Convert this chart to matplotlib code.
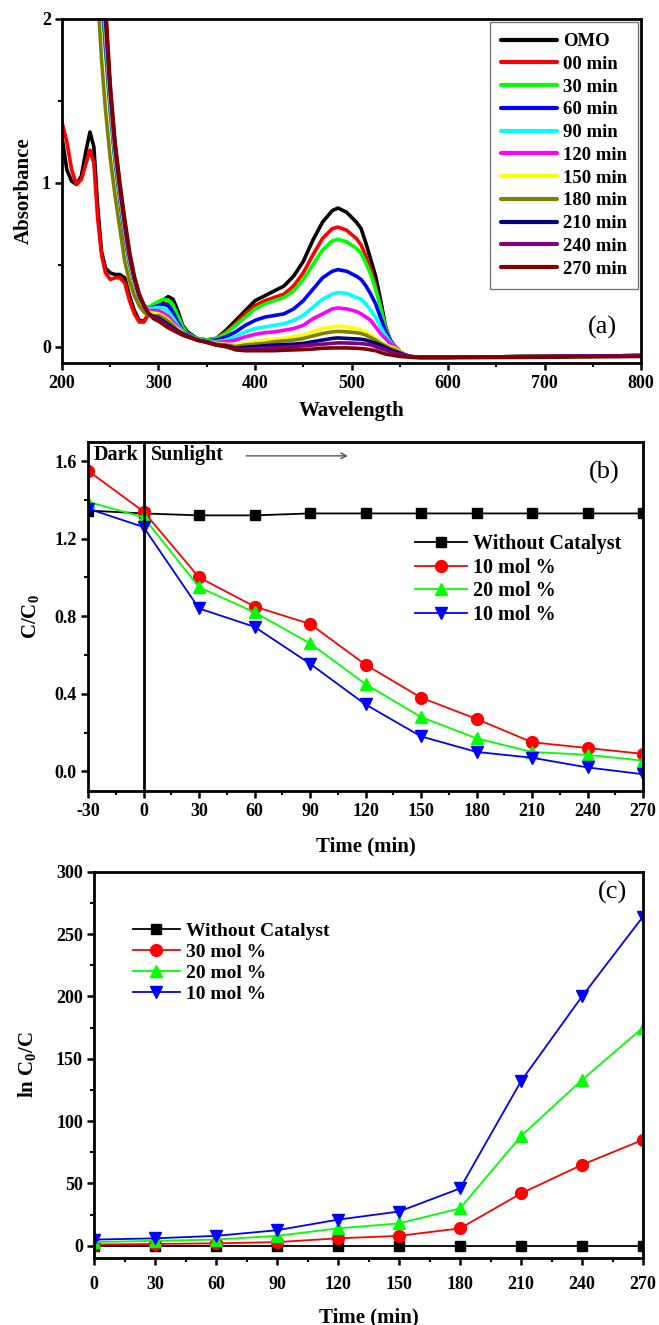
import numpy as np
import matplotlib
matplotlib.use("Agg")
import matplotlib.pyplot as plt
from matplotlib.ticker import MultipleLocator, FormatStrFormatter

plt.rcParams.update({
    "font.family": ["Liberation Serif", "DejaVu Serif"],
    "font.weight": "bold",
    "axes.labelweight": "bold",
    "axes.unicode_minus": False,
    "mathtext.fontset": "custom",
    "mathtext.rm": "Liberation Serif:bold",
    "mathtext.it": "Liberation Serif:bold",
    "mathtext.bf": "Liberation Serif:bold",
    "mathtext.default": "rm",
})

# ---------------- (a) UV-Vis spectra ----------------
wavelength = [200, 205, 210, 215, 220, 225, 229, 233, 237, 241,
              245, 250, 255, 260, 265, 270, 275, 280, 285, 290,
              295, 300, 305, 310, 315, 320, 325, 330, 340, 350,
              360, 370, 380, 390, 400, 410, 420, 430, 440, 450,
              460, 470, 480, 486, 495, 505, 510, 515, 520, 525,
              530, 535, 540, 545, 550, 555, 560, 570, 600, 700, 800]
nan = np.nan

abs_omo = [1.28, 1.08, 1.01, 0.99, 1.04, 1.20, 1.31, 1.22, 0.85, 0.58,
           0.48, 0.45, 0.44, 0.44, 0.42, 0.31, 0.22, 0.16, 0.155, 0.20,
           0.25, 0.27, 0.285, 0.305, 0.29, 0.22, 0.13, 0.09, 0.05, 0.04,
           0.05, 0.10, 0.16, 0.22, 0.28, 0.31, 0.34, 0.37, 0.43, 0.52,
           0.65, 0.76, 0.83, 0.846, 0.82, 0.76, 0.72, 0.63, 0.53, 0.43,
           0.29, 0.13, 0.04, 0.0, -0.03, -0.05, -0.06, -0.065, -0.065, -0.06, -0.055]
abs_00 = [1.37, 1.25, 1.08, 0.99, 1.02, 1.12, 1.20, 1.12, 0.78, 0.56,
          0.45, 0.41, 0.42, 0.42, 0.39, 0.28, 0.20, 0.15, 0.15, 0.21,
          0.25, 0.26, 0.265, 0.26, 0.22, 0.17, 0.11, 0.08, 0.05, 0.04,
          0.05, 0.09, 0.14, 0.20, 0.25, 0.28, 0.30, 0.32, 0.37, 0.45,
          0.56, 0.66, 0.72, 0.73, 0.71, 0.66, 0.62, 0.55, 0.47, 0.37,
          0.25, 0.12, 0.04, 0.0, -0.03, -0.05, -0.06, -0.065, -0.065, -0.06, -0.055]
abs_30 = [nan, nan, nan, nan, nan, nan, nan, nan, 2.6, 2.15,
          1.8, 1.42, 1.12, 0.88, 0.66, 0.50, 0.38, 0.30, 0.25, 0.24,
          0.26, 0.275, 0.29, 0.285, 0.255, 0.19, 0.12, 0.08, 0.05, 0.04,
          0.05, 0.08, 0.13, 0.18, 0.23, 0.26, 0.28, 0.30, 0.34, 0.41,
          0.50, 0.59, 0.645, 0.655, 0.64, 0.60, 0.57, 0.51, 0.44, 0.35,
          0.24, 0.12, 0.04, 0.0, -0.03, -0.05, -0.06, -0.065, -0.065, -0.06, -0.055]
abs_60 = [nan, nan, nan, nan, nan, nan, nan, nan, 2.65, 2.2,
          1.85, 1.45, 1.14, 0.90, 0.68, 0.51, 0.39, 0.30, 0.25, 0.23,
          0.24, 0.25, 0.26, 0.25, 0.21, 0.15, 0.10, 0.075, 0.045, 0.035,
          0.04, 0.06, 0.09, 0.13, 0.16, 0.18, 0.19, 0.20, 0.23, 0.28,
          0.35, 0.42, 0.46, 0.47, 0.46, 0.43, 0.41, 0.37, 0.32, 0.26,
          0.18, 0.10, 0.04, 0.0, -0.03, -0.05, -0.06, -0.065, -0.065, -0.06, -0.055]
abs_90 = [nan, nan, nan, nan, nan, nan, nan, nan, 2.7, 2.25,
          1.9, 1.48, 1.16, 0.92, 0.70, 0.52, 0.39, 0.30, 0.25, 0.23,
          0.235, 0.24, 0.235, 0.215, 0.175, 0.13, 0.095, 0.07, 0.045, 0.035,
          0.03, 0.04, 0.06, 0.09, 0.11, 0.12, 0.13, 0.14, 0.16, 0.19,
          0.24, 0.29, 0.32, 0.33, 0.325, 0.30, 0.29, 0.26, 0.22, 0.18,
          0.12, 0.07, 0.03, 0.0, -0.03, -0.05, -0.06, -0.065, -0.065, -0.06, -0.055]
abs_120 = [nan, nan, nan, nan, nan, nan, nan, nan, 2.75, 2.28,
           1.93, 1.5, 1.18, 0.93, 0.71, 0.53, 0.40, 0.31, 0.25, 0.22,
           0.22, 0.22, 0.205, 0.185, 0.15, 0.12, 0.09, 0.07, 0.04, 0.03,
           0.025, 0.03, 0.04, 0.06, 0.075, 0.085, 0.09, 0.10, 0.11, 0.13,
           0.17, 0.20, 0.23, 0.236, 0.23, 0.215, 0.20, 0.18, 0.16, 0.12,
           0.08, 0.05, 0.02, 0.0, -0.03, -0.05, -0.06, -0.065, -0.065, -0.06, -0.055]
abs_150 = [nan, nan, nan, nan, nan, nan, nan, nan, 2.8, 2.3,
           1.96, 1.52, 1.19, 0.94, 0.72, 0.54, 0.40, 0.31, 0.25, 0.21,
           0.205, 0.20, 0.185, 0.165, 0.135, 0.11, 0.085, 0.065, 0.04, 0.03,
           0.02, 0.015, 0.01, 0.02, 0.03, 0.04, 0.045, 0.05, 0.06, 0.07,
           0.09, 0.11, 0.12, 0.124, 0.12, 0.11, 0.10, 0.09, 0.07, 0.05,
           0.03, 0.01, 0.0, -0.01, -0.03, -0.05, -0.06, -0.065, -0.065, -0.06, -0.055]
abs_180 = [nan, nan, nan, nan, nan, nan, nan, nan, 2.15, 1.75,
           1.45, 1.15, 0.92, 0.72, 0.52, 0.40, 0.31, 0.25, 0.21, 0.19,
           0.185, 0.19, 0.175, 0.155, 0.13, 0.10, 0.08, 0.065, 0.04, 0.03,
           0.015, 0.01, 0.0, 0.01, 0.015, 0.02, 0.03, 0.035, 0.04, 0.05,
           0.065, 0.08, 0.09, 0.093, 0.09, 0.085, 0.08, 0.07, 0.055, 0.04,
           0.02, 0.005, -0.01, -0.02, -0.035, -0.05, -0.06, -0.065, -0.065, -0.06, -0.055]
abs_210 = [nan, nan, nan, nan, nan, nan, nan, nan, 2.85, 2.35,
           2.0, 1.55, 1.21, 0.96, 0.74, 0.55, 0.41, 0.31, 0.25, 0.20,
           0.185, 0.175, 0.155, 0.135, 0.115, 0.095, 0.08, 0.065, 0.04, 0.03,
           0.01, 0.005, -0.01, -0.005, 0.0, 0.005, 0.01, 0.012, 0.015, 0.02,
           0.03, 0.04, 0.05, 0.053, 0.05, 0.047, 0.045, 0.04, 0.03, 0.02,
           0.01, -0.005, -0.02, -0.03, -0.04, -0.05, -0.06, -0.065, -0.065, -0.06, -0.055]
abs_240 = [nan, nan, nan, nan, nan, nan, nan, nan, 2.9, 2.4,
           2.04, 1.57, 1.23, 0.98, 0.76, 0.56, 0.42, 0.32, 0.25, 0.20,
           0.18, 0.165, 0.145, 0.125, 0.105, 0.09, 0.075, 0.062, 0.04, 0.027,
           0.01, 0.0, -0.015, -0.015, -0.012, -0.01, -0.008, -0.005, 0.0, 0.005,
           0.01, 0.015, 0.02, 0.023, 0.022, 0.02, 0.018, 0.015, 0.01, 0.0,
           -0.01, -0.02, -0.03, -0.04, -0.045, -0.05, -0.06, -0.065, -0.065, -0.06, -0.055]
abs_270 = [nan, nan, nan, nan, nan, nan, nan, nan, 3.0, 2.45,
           2.1, 1.6, 1.25, 1.0, 0.78, 0.58, 0.43, 0.32, 0.25, 0.20,
           0.17, 0.155, 0.135, 0.115, 0.10, 0.085, 0.07, 0.06, 0.04, 0.025,
           0.01, 0.0, -0.02, -0.025, -0.025, -0.025, -0.025, -0.022, -0.02, -0.018,
           -0.015, -0.01, -0.008, -0.008, -0.008, -0.01, -0.012, -0.015, -0.02, -0.025,
           -0.035, -0.045, -0.05, -0.055, -0.06, -0.062, -0.065, -0.068, -0.068, -0.065, -0.06]

spectra_labels = ["OMO", "00 min", "30 min", "60 min", "90 min", "120 min",
                  "150 min", "180 min", "210 min", "240 min", "270 min"]
spectra = [abs_omo, abs_00, abs_30, abs_60, abs_90, abs_120,
           abs_150, abs_180, abs_210, abs_240, abs_270]
spectra_colors = ["#000000", "#FF0000", "#00FF00", "#0000FF", "#00FFFF", "#FF00FF",
                  "#FFFF00", "#808000", "#000080", "#800080", "#800000"]

# ---------------- (b) C/C0 vs time ----------------
time_b = [-30, 0, 30, 60, 90, 120, 150, 180, 210, 240, 270]
cc0_none = [1.345, 1.33, 1.32, 1.32, 1.33, 1.33, 1.33, 1.33, 1.33, 1.33, 1.33]
cc0_red = [1.55, 1.34, 1.00, 0.85, 0.76, 0.55, 0.38, 0.27, 0.15, 0.12, 0.09]
cc0_green = [1.39, 1.31, 0.95, 0.82, 0.66, 0.45, 0.28, 0.17, 0.10, 0.085, 0.055]
cc0_blue = [1.355, 1.26, 0.84, 0.745, 0.555, 0.345, 0.18, 0.10, 0.07, 0.02, -0.015]
labels_b = ["Without Catalyst", "10 mol %", "20 mol %", "10 mol %"]

# ---------------- (c) ln(C0/C) vs time ----------------
time_c = [0, 30, 60, 90, 120, 150, 180, 210, 240, 270]
ln_none = [0, 0, 0, 0, 0, 0, 0, 0, 0, 0]
ln_30 = [1, 1.5, 2, 3, 6, 8, 14, 42, 65, 85]
ln_20 = [3, 4, 5, 8, 14, 18, 30, 88, 133, 175]
ln_10 = [5, 6, 8, 12.5, 21, 27.5, 46, 132, 200, 264]
labels_c = ["Without Catalyst", "30 mol %", "20 mol %", "10 mol %"]

series_colors = ["#000000", "#FF0000", "#00FF00", "#0000FF"]
series_markers = ["s", "o", "^", "v"]
series_ms = [7.5, 8.5, 9, 9]

TICK_FS = 13
LABEL_FS = 15
W, H = 659, 1325
fig = plt.figure(figsize=(W / 100, H / 100), dpi=100)


def frame_style(ax, xpad=3):
    for s in ax.spines.values():
        s.set_linewidth(2.0)
    ax.tick_params(which="major", direction="out", length=5, width=1.8,
                   labelsize=TICK_FS, pad=3)
    ax.tick_params(axis="x", which="major", pad=xpad)
    ax.tick_params(which="minor", direction="out", length=3, width=1.5)


# (a)
ax_a = fig.add_axes([62 / W, 1 - 363 / H, 579 / W, 344 / H])
for y, lab, col in zip(spectra, spectra_labels, spectra_colors):
    ax_a.plot(wavelength, y, color=col, lw=2.6, label=lab,
              solid_joinstyle="round", solid_capstyle="round")
ax_a.set_xlim(200, 800)
ax_a.set_ylim(-0.1, 2.0)
ax_a.xaxis.set_major_locator(MultipleLocator(100))
ax_a.xaxis.set_minor_locator(MultipleLocator(50))
ax_a.yaxis.set_major_locator(MultipleLocator(1))
ax_a.yaxis.set_minor_locator(MultipleLocator(0.5))
frame_style(ax_a, xpad=4)
ax_a.set_xlabel("Wavelength", fontsize=LABEL_FS, labelpad=6)
ax_a.set_ylabel("Absorbance", fontsize=LABEL_FS, labelpad=6)
leg_a = ax_a.legend(loc="upper right", fontsize=13.5, frameon=True, fancybox=False,
                    edgecolor="#555555", handlelength=3.0, handletextpad=0.3,
                    labelspacing=0.30, borderaxespad=0.15, borderpad=0.6)
leg_a.get_frame().set_linewidth(1.0)
for h in leg_a.get_lines():
    h.set_linewidth(3.0)
ax_a.text(760, 0.12, "(a)", fontsize=19, fontweight="normal", ha="center", va="center")

# (b)
ax_b = fig.add_axes([88 / W, 1 - 790.7 / H, 555 / W, 349 / H])
for y, lab, col, mk, ms in zip([cc0_none, cc0_red, cc0_green, cc0_blue], labels_b,
                               series_colors, series_markers, series_ms):
    ax_b.plot(time_b, y, color=col, lw=1.3, marker=mk, ms=ms, label=lab)
ax_b.axvline(0, color="black", lw=2.0)
ax_b.set_xlim(-30, 270)
ax_b.set_ylim(-0.1, 1.7)
ax_b.xaxis.set_major_locator(MultipleLocator(30))
ax_b.xaxis.set_minor_locator(MultipleLocator(15))
ax_b.yaxis.set_major_locator(MultipleLocator(0.4))
ax_b.yaxis.set_minor_locator(MultipleLocator(0.2))
ax_b.yaxis.set_major_formatter(FormatStrFormatter("%.1f"))
frame_style(ax_b, xpad=4)
ax_b.set_xlabel("Time (min)", fontsize=LABEL_FS, labelpad=12)
ax_b.set_ylabel("C/C$_0$", fontsize=LABEL_FS, labelpad=10)
ax_b.legend(loc="upper left", bbox_to_anchor=((415 - 88) / 555, (790.7 - 534) / 349),
            fontsize=14.5, frameon=False, handlelength=2.6, handletextpad=0.3,
            labelspacing=0.18, borderpad=0, borderaxespad=0, numpoints=1)
ax_b.text(-27, 1.63, "Dark", fontsize=14.5, ha="left", va="center")
ax_b.text(4, 1.63, "Sunlight", fontsize=14.5, ha="left", va="center")
ax_b.annotate("", xy=(112, 1.627), xytext=(54, 1.627),
              arrowprops=dict(arrowstyle="->", color="#555555", lw=1.0))
ax_b.text(249, 1.54, "(b)", fontsize=19, fontweight="normal", ha="center", va="center")

# (c)
ax_c = fig.add_axes([94 / W, 1 - 1258.3 / H, 549 / W, 386.6 / H])
for y, lab, col, mk, ms in zip([ln_none, ln_30, ln_20, ln_10], labels_c,
                               series_colors, series_markers, series_ms):
    ax_c.plot(time_c, y, color=col, lw=1.3, marker=mk, ms=ms, label=lab)
ax_c.set_xlim(0, 270)
ax_c.set_ylim(-10, 300)
ax_c.xaxis.set_major_locator(MultipleLocator(30))
ax_c.xaxis.set_minor_locator(MultipleLocator(15))
ax_c.yaxis.set_major_locator(MultipleLocator(50))
ax_c.yaxis.set_minor_locator(MultipleLocator(25))
frame_style(ax_c, xpad=8)
ax_c.set_xlabel("Time (min)", fontsize=LABEL_FS, labelpad=10)
ax_c.set_ylabel("ln C$_0$/C", fontsize=LABEL_FS, labelpad=13)
ax_c.legend(loc="upper left", bbox_to_anchor=((133 - 94) / 549, (1258.3 - 922) / 386.6),
            fontsize=14, frameon=False, handlelength=2.4, handletextpad=0.3,
            labelspacing=0.18, borderpad=0, borderaxespad=0, numpoints=1)
ax_c.text(255, 283, "(c)", fontsize=19, fontweight="normal", ha="center", va="center")

fig.savefig("out.png", dpi=100)
